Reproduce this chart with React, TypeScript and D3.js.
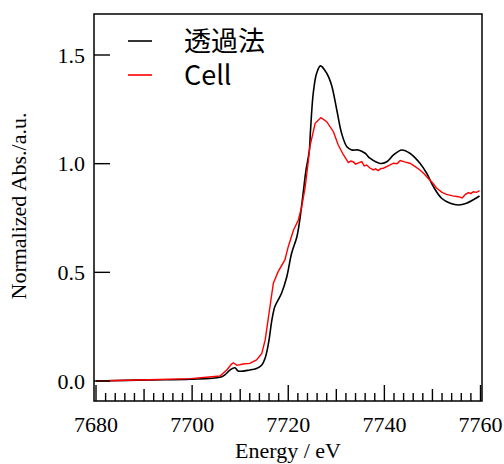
import React from 'react';
import * as d3 from 'd3';

// energies (eV) and normalized absorbance
const transE = [7680, 7691, 7699.6, 7705.8, 7706.8, 7707.9, 7708.9, 7709.6, 7712.0, 7713.4, 7714.5, 7715.2, 7715.9, 7716.6, 7717.2, 7717.9, 7718.6, 7719.7, 7720.7, 7721.8, 7722.4, 7723.1, 7723.7, 7724.4, 7724.6, 7725.2, 7725.9, 7726.7, 7728.0, 7729.0, 7730.1, 7731.1, 7732.2, 7733.2, 7734.6, 7736.0, 7737.0, 7739.1, 7740.5, 7741.9, 7743.6, 7745.3, 7747.4, 7748.8, 7750.2, 7751.9, 7753.7, 7755.4, 7757.1, 7759.8];
const transV = [0.0, 0.005, 0.008, 0.017, 0.028, 0.051, 0.061, 0.046, 0.051, 0.058, 0.074, 0.106, 0.175, 0.281, 0.342, 0.373, 0.404, 0.48, 0.588, 0.664, 0.741, 0.864, 0.971, 1.063, 1.141, 1.324, 1.416, 1.45, 1.416, 1.362, 1.247, 1.14, 1.078, 1.063, 1.063, 1.048, 1.025, 1.001, 1.009, 1.04, 1.063, 1.048, 1.002, 0.956, 0.894, 0.841, 0.818, 0.81, 0.818, 0.851];

const cellE = [7680, 7691, 7699.6, 7705.8, 7707.2, 7708.2, 7708.6, 7709.3, 7710.6, 7712.0, 7713.4, 7714.5, 7715.2, 7715.9, 7716.4, 7716.9, 7717.9, 7719.3, 7720.0, 7721.1, 7722.1, 7722.8, 7723.5, 7724.2, 7724.5, 7725.6, 7726.8, 7728.0, 7729.4, 7730.4, 7731.5, 7732.5, 7733.0, 7733.5, 7734.0, 7734.6, 7735.3, 7735.8, 7736.3, 7737.0, 7737.7, 7738.2, 7738.7, 7739.3, 7739.8, 7740.8, 7741.9, 7742.6, 7743.3, 7744.2, 7745.3, 7746.2, 7747.4, 7748.2, 7749.1, 7750.0, 7750.9, 7752.0, 7752.9, 7754.2, 7755.4, 7756.2, 7756.8, 7757.5, 7758.0, 7758.5, 7759.2, 7759.8];
const cellV = [0.0, 0.006, 0.011, 0.023, 0.051, 0.078, 0.084, 0.072, 0.078, 0.081, 0.097, 0.127, 0.189, 0.296, 0.373, 0.45, 0.503, 0.557, 0.618, 0.695, 0.741, 0.802, 0.888, 1.017, 1.078, 1.186, 1.212, 1.193, 1.147, 1.086, 1.04, 1.005, 1.012, 1.009, 0.998, 1.004, 1.009, 0.99, 0.994, 0.98, 0.971, 0.976, 0.968, 0.978, 0.979, 0.99, 1.002, 1.0, 1.014, 1.008, 1.002, 0.99, 0.971, 0.955, 0.933, 0.912, 0.887, 0.868, 0.859, 0.852, 0.848, 0.842, 0.858, 0.867, 0.862, 0.871, 0.868, 0.876];

const yTicks = [0, 0.5, 1.0, 1.5];
const xLabels = [7680, 7700, 7720, 7740, 7760];
const legendNames = ['透過法', 'Cell'];
const legendColors = ['#000000', '#ff0000'];

const serif = '"Liberation Serif", "Times New Roman", serif';
const sans = '"Noto Sans CJK JP", "Noto Sans", sans-serif';

export default function App() {
  const left = 94, right = 482, top = 14, bottom = 401;
  const x = d3.scaleLinear().domain([7680, 7760]).range([96, 480.5]);
  const y = d3.scaleLinear().domain([0, 1.5]).range([381, 55]);

  const smooth = d3.line<[number, number]>()
    .x(d => x(d[0])).y(d => y(d[1]))
    .curve(d3.curveCatmullRom.alpha(0.5));
  const rough = d3.line<[number, number]>()
    .x(d => x(d[0])).y(d => y(d[1]))
    .curve(d3.curveLinear);

  const transPts = transE.map((e, i) => [e, transV[i]] as [number, number]);
  const cellPts = cellE.map((e, i) => [e, cellV[i]] as [number, number]);

  const minor = d3.range(7680, 7761, 2);

  return (
    <svg width={504} height={464} style={{ display: 'block', position: 'absolute', left: 0, top: 0 }}>
      <rect x={0} y={0} width={504} height={464} fill="#fff" />
      <defs>
        <clipPath id="plot">
          <rect x={left} y={top} width={right - left} height={bottom - top} />
        </clipPath>
      </defs>
      <g clipPath="url(#plot)">
        <path d={smooth(transPts) || ''} fill="none" stroke="#000" strokeWidth={1.6} />
        <path d={rough(cellPts) || ''} fill="none" stroke="#ff0000" strokeWidth={1.4} />
      </g>
      <rect x={left} y={top} width={right - left} height={bottom - top} fill="none" stroke="#000" strokeWidth={1.5} />
      {minor.map(e => {
        const len = e % 20 === 0 ? 16 : e % 10 === 0 ? 12 : 8;
        return <line key={e} x1={x(e)} x2={x(e)} y1={bottom} y2={bottom - len} stroke="#000" strokeWidth={1.4} />;
      })}
      {yTicks.map(v => (
        <g key={v}>
          <line x1={left} x2={left + 16} y1={y(v)} y2={y(v)} stroke="#000" strokeWidth={1.4} />
          <text x={85} y={y(v)} dy="0.35em" textAnchor="end" fontFamily={serif} fontSize={22}>{v.toFixed(1)}</text>
        </g>
      ))}
      {xLabels.map(e => (
        <text key={e} x={x(e)} y={432} textAnchor="middle" fontFamily={serif} fontSize={22}>{e}</text>
      ))}
      <text x={288} y={458} textAnchor="middle" fontFamily={serif} fontSize={22}>Energy / eV</text>
      <text transform="translate(26,206) rotate(-90)" textAnchor="middle" fontFamily={serif} fontSize={22}>Normalized Abs./a.u.</text>
      {legendNames.map((n, i) => (
        <g key={n}>
          <line x1={128} x2={152} y1={41 + i * 34} y2={41 + i * 34} stroke={legendColors[i]} strokeWidth={1.6} />
          <text x={184} y={41 + i * 34} dy="0.36em" fontFamily={sans} fontSize={27}>{n}</text>
        </g>
      ))}
    </svg>
  );
}
